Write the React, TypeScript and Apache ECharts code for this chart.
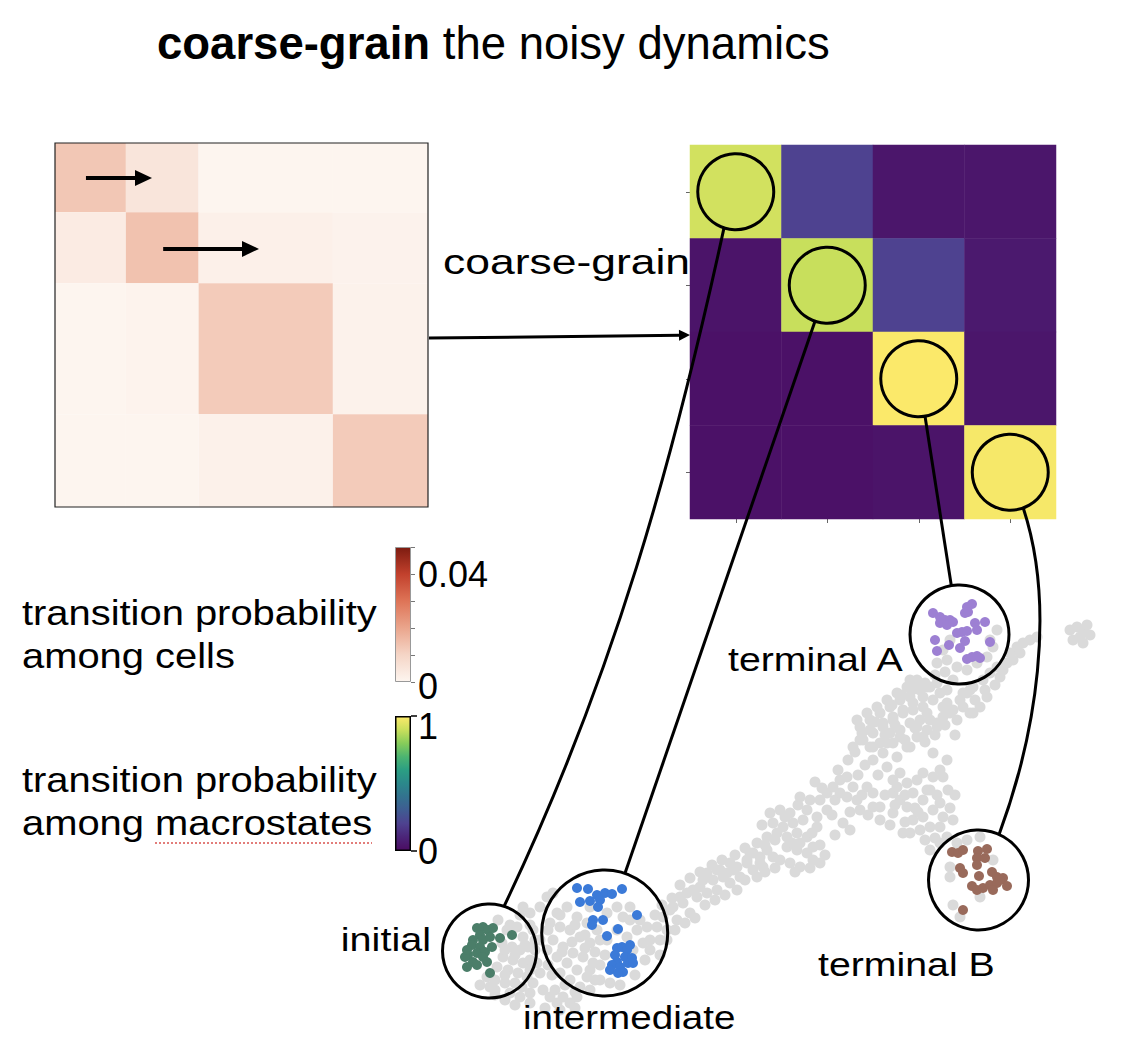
import React, { useEffect, useRef } from "react";
import * as echarts from "echarts";

const FONT = "'Liberation Sans', Arial, Helvetica, sans-serif";

// ---------- left: cell-to-cell transition matrix, summarised by blocks ----------
const blockEdges = [0, 0.19, 0.385, 0.745, 1];
const blockValues = [
  [0.013, 0.005, 0.0, 0.0],
  [0.003, 0.014, 0.0015, 0.0008],
  [0.0, 0.0006, 0.012, 0.001],
  [0.0, 0.0, 0.0012, 0.012],
];
const cellProbMax = 0.05;
const cellProbLabels = [0, 0.04];
const cellColors = ["#fdf5ef", "#f5d5c6", "#eaa58c", "#de7457", "#c2412d", "#7d1b10"];
const cellArrows = [
  [[0.083, 0.096], [0.26, 0.096]],
  [[0.29, 0.291], [0.547, 0.291]],
];

// ---------- right: macrostate transition matrix ----------
const macrostates = ["initial", "intermediate", "terminal A", "terminal B"];
const macroMatrix = [
  [0.92, 0.2, 0.04, 0.04],
  [0.03, 0.9, 0.2, 0.05],
  [0.02, 0.02, 1.0, 0.04],
  [0.02, 0.02, 0.03, 0.99],
];
const macroLabels = [0, 1];
const viridisColors = ["#4b0c62", "#4b2579", "#4e4290", "#3f5c92", "#33728f", "#2b888b", "#2b9e83", "#4cb471", "#86cc5a", "#c8df5c", "#fbe96a"];

// ---------- embedding of cells ----------
const grayCells = [
  [68,110],[77,100],[87,103],[93,93],[72,87],[82,83],[90,80],[98,83],[73,73],[83,70],[93,67],[100,70],[67,63],[78,60],[88,57],[65,50],[75,47],[85,47],[97,53],[60,43],[80,37],[92,43],[100,60],[57,53],
  [75,80],[85,75],[95,85],[80,105],[90,115],[100,105],[65,40],[75,55],[50,45],[105,80],[105,90],
  [103,47],[110,57],[107,67],[103,100],[100,117],[93,123],[110,123],[117,133],[123,137],[110,90],[113,40],[120,33],[100,37],[90,33],[127,27],[133,33],[140,27],[147,33],
  [75,30],[85,25],[100,27],[115,22],[130,20],[145,22],[65,35],
  [127,117],[137,123],[147,113],[157,107],[130,103],[140,100],[150,93],[160,87],[123,90],[133,83],[143,77],[153,73],[163,67],[127,73],[137,67],[147,60],[157,53],[130,57],[140,50],[150,43],[170,50],[180,47],[167,100],[177,90],[187,100],[197,93],[200,110],[207,100],[217,103],[213,87],[203,80],[193,113],[187,123],[200,123],[177,117],[160,123],[120,107],[117,80],
  [125,40],[135,45],[145,38],[160,40],[118,65],[122,55],[132,78],[142,88],[155,82],[165,78],[170,65],[160,60],[175,75],[118,100],[130,115],[145,105],[155,95],[170,90],[165,50],[190,45],[205,55],[215,70],[210,110],[220,90],
  [227,103],[233,113],[230,90],[237,100],[240,120],[247,110],[253,127],[260,117],[257,137],[267,133],[270,143],[277,137],[283,150],[287,140],[293,153],[300,147],[303,160],[310,153],[317,167],[323,160],[330,173],[333,163],[337,180],[320,177],[300,167],[290,160],[273,150],[263,140],[250,133],[243,123],
  [225,115],[232,125],[242,132],[250,145],[260,152],[270,158],[282,165],[292,170],[305,175],[315,182],[327,187],[237,90],[245,100],[255,107],[265,112],[275,125],[285,130],[295,135],[307,140],[315,150],[327,153],[335,158],[345,162],[220,80],[230,75],
  [277,157],[287,160],[297,157],[307,163],[317,170],[323,177],[330,167],[343,173],[350,170],[357,183],[367,180],[377,177],[383,170],[390,167],[370,163],[360,167],
  [340,217],[350,220],[360,217],[343,207],[353,203],[363,207],[373,210],[347,197],[357,193],[367,197],[377,193],[370,187],[337,193],[383,183],[387,203],[377,220],
  [332,205],[335,185],[345,190],[362,187],[382,197],[390,185],[395,175],[380,162],[365,158],[355,213],[368,225],[380,230],[392,242],[405,230],[402,215],[420,218],[432,235],[438,215],[450,210],[455,235],[420,200],[405,195],[370,233],[385,248],[408,260],[428,255],[435,265],[448,255],
  [390,230],[397,237],[403,243],[410,250],[417,253],[410,237],[397,220],[387,213],[417,233],[423,243],[413,207],[427,230],[437,243],[443,237],[450,223],[443,223],[430,220],[418,270],[423,283],
  [430,303],[440,310],[450,317],[460,323],[470,330],[480,333],[490,340],[487,347],[500,343],[510,337],[517,327],[503,330],[493,323],[483,320],[473,317],[463,310],[453,303],[443,297],[433,290],[440,283],[450,287],[460,297],[470,300],[480,307],[490,310],[497,317],[463,287],[453,277],[443,270],[457,263],[467,273],[477,283],[487,293],[497,300],[507,307],[513,313],[523,320],[530,330],[537,337],
  [425,278],[432,297],[445,308],[455,295],[465,305],[475,290],[485,302],[495,288],[505,295],[515,305],[525,295],[545,330],[555,340],[565,345],[462,325],[472,335],[482,340],[495,347],[480,350],[505,355],[515,358],
  [470,257],[477,247],[487,250],[493,257],[483,237],[493,230],[500,240],[503,220],[510,227],[513,213],[493,213],[483,210],[477,223],[470,230],[463,237],[500,203],[510,203],[490,200],[480,197],[473,197],[463,217],[463,250],[503,277],[510,260],[517,270],[513,253],[503,253],
  [467,243],[475,235],[485,222],[497,240],[507,235],[518,240],[520,222],[505,192],[495,190],[488,218],[475,208],[460,205],[465,225],[523,210],[525,235],
  [527,310],[533,323],[543,317],[540,340],
  [487,350],[497,343],[507,347],[517,340],[523,350],[533,337],[543,343],[553,350],[557,333],[550,323],[540,317],[560,357],[567,363],
  [517,370],[527,363],[537,360],[547,367],[557,373],[563,383],[567,400],[560,390],[513,380],[520,390],[507,367],
  [580,377],[587,383],[593,387],[600,390],[607,393],[590,377],[583,370],[577,367],[573,360],[570,353],
  [640,400],[647,403],[653,400],[660,395],[650,393],[643,390],[653,387],[657,405],
  [427,310],[437,317],[447,323],[457,330],[467,337],[477,343],[440,300],[453,307],[463,313],[473,320],[483,327],[493,333],[513,323],[520,317],[500,310],[487,303],[470,293],[457,287],[443,283],[430,290],[480,283],[493,293],[507,303],
  [520,163],[527,187],[537,190],[550,193],[520,153],[523,125],[530,113],[550,133],[563,170],[500,180],[510,187],[517,193],
];
const initialCells = [
  [47,102],[53,103],[58,100],[63,102],[50,95],[43,90],[53,90],[60,93],[42,85],[50,83],[38,75],[47,77],[55,78],[35,73],[43,68],[53,73],[37,63],[47,65],[57,68],[70,92],[82,95],[60,57],[37,80],[62,83],
];
const intermediateCells = [
  [147,142],[158,141],[167,135],[175,137],[182,136],[192,141],[150,128],[160,129],[170,130],[168,123],[163,110],[173,110],[162,105],[207,115],[188,101],[177,94],[187,82],[192,83],[197,80],[185,75],[195,73],[202,72],[187,68],[198,67],[182,65],[203,67],[190,63],[180,60],[193,58],[188,57],[200,85],
];
const terminalACells = [
  [503,417],[510,413],[515,410],[520,410],[510,407],[517,405],[523,408],[537,423],[542,426],[535,417],[538,418],[545,407],[555,408],[547,400],[527,397],[532,398],[537,399],[505,390],[519,385],[535,389],[530,382],[507,379],[560,388],[537,371],[542,373],[547,374],[550,372],
];
const terminalBCells = [
  [522,178],[528,177],[533,180],[548,179],[557,181],[547,172],[555,172],[547,165],[530,162],[533,157],[549,154],[562,158],[567,153],[573,152],[542,144],[547,140],[553,142],[560,145],[567,147],[577,144],[563,140],[533,120],[570,150],
];
const macroCellGroups = [initialCells, intermediateCells, terminalACells, terminalBCells];
const macroCellColors = ["#4b7e69", "#3b7ad8", "#9d80d3", "#996a5b"];
// zoom circles around each macrostate: centre (embedding units) and diameter
const zoomCenters = [[59.5, 79], [174.7, 97], [529.5, 395.5], [548.5, 150]];
const zoomDiameters = [94, 126, 99, 100];

// connectors: matrix circle (angle a0) -> embedding circle (angle a1), cubic handles
const links = [
  { a0: 108, a1: -72, h0: [-50, 230], h1: [110, -230] },
  { a0: 108.8, a1: -71.2, h0: [0, 0], h1: [0, 0] },
  { a0: 80.5, a1: -99.5, h0: [0, 0], h1: [0, 0] },
  { a0: 70, a1: -65.7, h0: [33, 100], h1: [37, -100] },
];

const labels = [
  { text: "coarse-grain", x: 443, y: 262, size: 35, sx: 1.27, align: "left" },
  { text: "transition probability\namong cells", x: 22, y: 634, size: 35, sx: 1.14, align: "left" },
  { text: "transition probability\namong macrostates", x: 22, y: 801, size: 35, sx: 1.14, align: "left" },
  { text: "initial", x: 431, y: 940, size: 33, sx: 1.2, align: "right" },
  { text: "intermediate", x: 523, y: 1018, size: 33, sx: 1.17, align: "left" },
  { text: "terminal A", x: 728, y: 660, size: 33, sx: 1.19, align: "left" },
  { text: "terminal B", x: 818, y: 965, size: 33, sx: 1.19, align: "left" },
];

const MATRIX_CIRCLE = 76;

function gradient(colors: string[]) {
  return new echarts.graphic.LinearGradient(
    0, 1, 0, 0,
    colors.map((c, i) => ({ offset: i / (colors.length - 1), color: c }))
  );
}

function buildOption(): any {
  const blockData: number[][] = [];
  for (let i = 0; i < 4; i++)
    for (let j = 0; j < 4; j++)
      blockData.push([blockEdges[j], blockEdges[j + 1], blockEdges[i], blockEdges[i + 1], blockValues[i][j]]);
  const heatData: number[][] = [];
  macroMatrix.forEach((row, i) => row.forEach((v, j) => heatData.push([j, i, v])));

  const isLabel = (vals: number[], v: number) => vals.some((t) => Math.abs(t - v) < 1e-9);

  return {
    animation: false,
    backgroundColor: "#fff",
    title: {
      text: "{b|coarse-grain} the noisy dynamics",
      left: 157,
      top: 20,
      padding: 0,
      textStyle: {
        fontFamily: FONT, fontSize: 45.5, fontWeight: "normal", color: "#000",
        rich: { b: { fontFamily: FONT, fontSize: 45.5, fontWeight: "bold", color: "#000" } },
      },
    },
    grid: [
      { left: 55, top: 143, width: 373, height: 364 },
      { left: 690, top: 145, width: 366, height: 374 },
      { left: 395, top: 547, width: 16, height: 135 },
      { left: 395, top: 716, width: 16, height: 135 },
      { left: 430, top: 590, width: 680, height: 440 },
    ],
    xAxis: [
      { type: "value", gridIndex: 0, min: 0, max: 1, show: false },
      {
        type: "category", gridIndex: 1, data: macrostates,
        axisLine: { show: false }, axisLabel: { show: false }, splitLine: { show: false },
        axisTick: { show: true, alignWithLabel: true, length: 4, lineStyle: { color: "#666" } },
      },
      { type: "category", gridIndex: 2, data: [""], show: false },
      { type: "category", gridIndex: 3, data: [""], show: false },
      { type: "value", gridIndex: 4, min: 0, max: 680, show: false },
    ],
    yAxis: [
      { type: "value", gridIndex: 0, min: 0, max: 1, inverse: true, show: false },
      {
        type: "category", gridIndex: 1, data: macrostates, inverse: true,
        axisLine: { show: false }, axisLabel: { show: false }, splitLine: { show: false },
        axisTick: { show: true, alignWithLabel: true, length: 4, lineStyle: { color: "#666" } },
      },
      {
        type: "value", gridIndex: 2, min: 0, max: cellProbMax, interval: 0.01, position: "right",
        splitLine: { show: false }, axisLine: { show: false },
        axisTick: { show: true, length: 4, lineStyle: { color: "#777" } },
        axisLabel: {
          margin: 7, fontSize: 36, lineHeight: 24, fontFamily: FONT, color: "#000",
          formatter: (v: number) => (isLabel(cellProbLabels, v) ? (v === 0 ? "{z|0}" : v.toFixed(2)) : ""),
          rich: { z: { fontSize: 36, lineHeight: 24, fontFamily: FONT, color: "#000", padding: [8, 0, 0, 0] } },
        },
      },
      {
        type: "value", gridIndex: 3, min: 0, max: 1, interval: 1, position: "right",
        splitLine: { show: false }, axisLine: { show: false },
        axisTick: { show: true, length: 6, lineStyle: { color: "#000", width: 1.5 } },
        axisLabel: {
          margin: 7, fontSize: 36, lineHeight: 24, fontFamily: FONT, color: "#000",
          formatter: (v: number) => (isLabel(macroLabels, v) ? (v === 1 ? "{o|1}" : String(v)) : ""),
          rich: { o: { fontSize: 36, lineHeight: 24, fontFamily: FONT, color: "#000", padding: [20, 0, 0, 0] } },
        },
      },
      { type: "value", gridIndex: 4, min: 0, max: 440, show: false },
    ],
    visualMap: [
      { type: "continuous", show: false, seriesIndex: 0, dimension: 4, min: 0, max: cellProbMax, inRange: { color: cellColors } },
      { type: "continuous", show: false, seriesIndex: 1, dimension: 2, min: 0, max: 1, inRange: { color: viridisColors } },
    ],
    series: [
      {
        type: "custom", xAxisIndex: 0, yAxisIndex: 0, data: blockData, silent: true,
        encode: { x: [0, 1], y: [2, 3] },
        renderItem: (_p: any, api: any) => {
          const a = api.coord([api.value(0), api.value(2)]);
          const b = api.coord([api.value(1), api.value(3)]);
          return {
            type: "rect",
            shape: { x: a[0], y: a[1], width: b[0] - a[0], height: b[1] - a[1] },
            style: { fill: api.visual("color") },
          };
        },
      },
      {
        type: "heatmap", xAxisIndex: 1, yAxisIndex: 1, data: heatData, silent: true,
        itemStyle: { borderWidth: 0 },
      },
      {
        type: "scatter", xAxisIndex: 1, yAxisIndex: 1, silent: true,
        data: macrostates.map((_, i) => [i, i]),
        symbolSize: MATRIX_CIRCLE, z: 5,
        itemStyle: { color: "rgba(0,0,0,0)", borderColor: "#000", borderWidth: 3, opacity: 1 },
      },
      {
        type: "bar", xAxisIndex: 2, yAxisIndex: 2, data: [cellProbMax], barWidth: "100%", silent: true,
        itemStyle: { color: gradient(cellColors), borderColor: "#999", borderWidth: 1 },
      },
      {
        type: "bar", xAxisIndex: 3, yAxisIndex: 3, data: [1], barWidth: "100%", silent: true,
        itemStyle: { color: gradient(viridisColors), borderColor: "#000", borderWidth: 1.5 },
      },
      {
        type: "scatter", xAxisIndex: 4, yAxisIndex: 4, data: grayCells, symbolSize: 11, silent: true,
        itemStyle: { color: "#dadada", opacity: 1 },
      },
      ...macroCellGroups.map((g, i) => ({
        type: "scatter", xAxisIndex: 4, yAxisIndex: 4, data: g, symbolSize: 10, silent: true,
        itemStyle: { color: macroCellColors[i], opacity: 1 },
      })),
      {
        type: "scatter", xAxisIndex: 4, yAxisIndex: 4, silent: true, z: 5,
        data: zoomCenters.map((c, i) => [c[0], c[1], zoomDiameters[i]]),
        symbolSize: (v: number[]) => v[2],
        itemStyle: { color: "rgba(0,0,0,0)", borderColor: "#000", borderWidth: 3, opacity: 1 },
      },
    ],
  };
}

function arrow(p0: number[], p1: number[], width: number, headLen: number, headW: number) {
  const dx = p1[0] - p0[0], dy = p1[1] - p0[1];
  const L = Math.hypot(dx, dy);
  const ux = dx / L, uy = dy / L;
  const bx = p1[0] - ux * headLen, by = p1[1] - uy * headLen;
  return [
    { type: "line", z: 100, silent: true, shape: { x1: p0[0], y1: p0[1], x2: bx + ux, y2: by + uy }, style: { stroke: "#000", lineWidth: width } },
    {
      type: "polygon", z: 100, silent: true,
      shape: { points: [[p1[0], p1[1]], [bx - (uy * headW) / 2, by + (ux * headW) / 2], [bx + (uy * headW) / 2, by - (ux * headW) / 2]] },
      style: { fill: "#000" },
    },
  ];
}

function buildGraphics(chart: any) {
  const g: any[] = [];
  const cellPx = (p: number[]) => chart.convertToPixel({ xAxisIndex: 0, yAxisIndex: 0 }, p);
  const macroPx = (p: number[]) => chart.convertToPixel({ xAxisIndex: 1, yAxisIndex: 1 }, p);
  const embPx = (p: number[]) => chart.convertToPixel({ xAxisIndex: 4, yAxisIndex: 4 }, p);

  // frame of the cell matrix
  const tl = cellPx([0, 0]), br = cellPx([1, 1]);
  g.push({ type: "rect", z: 100, silent: true, shape: { x: tl[0], y: tl[1], width: br[0] - tl[0], height: br[1] - tl[1] }, style: { fill: "none", stroke: "#222", lineWidth: 1.2 } });

  cellArrows.forEach(([a, b]) => g.push(...arrow(cellPx(a), cellPx(b), 4, 17, 16)));

  // coarse-grain arrow between the two matrices
  const s = cellPx([1, 0.536]);
  const c0 = macroPx([0, 1]), c1 = macroPx([1, 1]);
  const leftEdge = c0[0] - (c1[0] - c0[0]) / 2;
  g.push(...arrow([s[0] + 1, s[1]], [leftEdge, s[1] - 3], 3, 11, 11));

  // connectors
  links.forEach((lk, i) => {
    const cm = macroPx([i, i]);
    const ce = embPx(zoomCenters[i]);
    const r0 = MATRIX_CIRCLE / 2, r1 = zoomDiameters[i] / 2;
    const a0 = (lk.a0 * Math.PI) / 180, a1 = (lk.a1 * Math.PI) / 180;
    const p0 = [cm[0] + r0 * Math.cos(a0), cm[1] + r0 * Math.sin(a0)];
    const p3 = [ce[0] + r1 * Math.cos(a1), ce[1] + r1 * Math.sin(a1)];
    g.push({
      type: "bezierCurve", z: 100, silent: true,
      shape: {
        x1: p0[0], y1: p0[1], x2: p3[0], y2: p3[1],
        cpx1: p0[0] + lk.h0[0], cpy1: p0[1] + lk.h0[1],
        cpx2: p3[0] + lk.h1[0], cpy2: p3[1] + lk.h1[1],
      },
      style: { stroke: "#000", lineWidth: 3, fill: "none" },
    });
  });

  labels.forEach((l) => {
    g.push({
      type: "text", z: 100, silent: true, x: l.x, y: l.y, scaleX: l.sx, scaleY: 1,
      style: {
        text: l.text, fontFamily: FONT, fontSize: l.size, fill: "#000",
        textAlign: l.align, textVerticalAlign: "middle", lineHeight: 43,
      },
    });
  });

  // spell-check style dotted underline under "macrostates"
  g.push({ type: "line", z: 100, silent: true, shape: { x1: 155, y1: 843, x2: 372, y2: 843 }, style: { stroke: "#d9534f", lineWidth: 1.5, lineDash: [2, 2] } });
  return g;
}

export default function App() {
  const ref = useRef<HTMLDivElement>(null);
  useEffect(() => {
    document.body.style.margin = "0";
    const chart = echarts.init(ref.current!, null, { renderer: "svg" });
    chart.setOption(buildOption());
    chart.setOption({ graphic: buildGraphics(chart) });
    return () => chart.dispose();
  }, []);
  return <div ref={ref} style={{ width: 1138, height: 1044 }} />;
}
